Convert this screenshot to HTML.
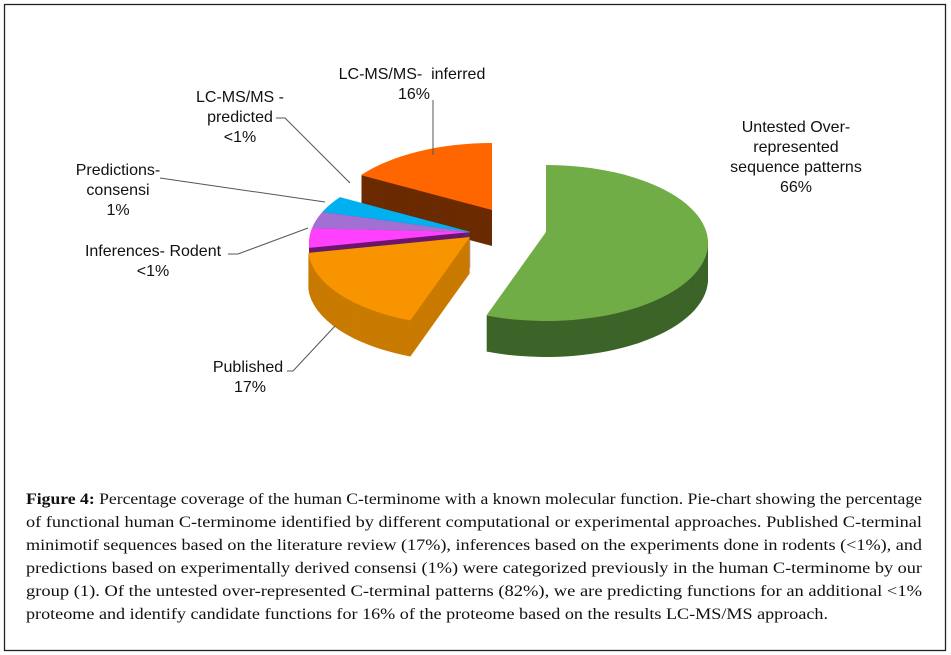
<!DOCTYPE html>
<html><head><meta charset="utf-8"><style>
html,body{margin:0;padding:0;background:#fff}
svg{display:block}
</style></head><body>
<svg id="chart" width="951" height="655" viewBox="0 0 951 655" xmlns="http://www.w3.org/2000/svg">
<rect x="4.5" y="4.5" width="941" height="646" fill="#fff" stroke="#222" stroke-width="1.3"/>
<g id="pie"></g>
<g font-family="'Liberation Sans',Arial,sans-serif" font-size="16" fill="#111" text-anchor="middle">
<g stroke="#555" stroke-width="1" fill="none">
<polyline points="433,100 433,155"/>
<polyline points="276,118 285,118 350,183"/>
<polyline points="160,178 325,202"/>
<polyline points="228,254 238,254 308,228"/>
<polyline points="287,371 293,371 335,326"/>
</g>
<text x="412" y="79">LC-MS/MS-&#160; inferred</text>
<text x="414" y="99">16%</text>
<text x="240" y="102">LC-MS/MS -</text>
<text x="240" y="122">predicted</text>
<text x="240" y="142">&lt;1%</text>
<text x="118" y="175">Predictions-</text>
<text x="118" y="195">consensi</text>
<text x="118" y="215">1%</text>
<text x="153" y="256">Inferences- Rodent</text>
<text x="153" y="276">&lt;1%</text>
<text x="248" y="372">Published</text>
<text x="250" y="392">17%</text>
<text x="796" y="132">Untested Over-</text>
<text x="796" y="152">represented</text>
<text x="796" y="172">sequence patterns</text>
<text x="796" y="192">66%</text>
</g>
<g font-family="'Liberation Serif','Times New Roman',serif" font-size="16" fill="#111">
<text x="26" y="504" textLength="896" lengthAdjust="spacingAndGlyphs"><tspan font-weight="bold">Figure 4:</tspan> Percentage coverage of the human C-terminome with a known molecular function. Pie-chart showing the percentage</text>
<text x="26" y="527" textLength="896" lengthAdjust="spacingAndGlyphs">of functional human C-terminome identified by different computational or experimental approaches. Published C-terminal</text>
<text x="26" y="550" textLength="896" lengthAdjust="spacingAndGlyphs">minimotif sequences based on the literature review (17%), inferences based on the experiments done in rodents (&lt;1%), and</text>
<text x="26" y="573" textLength="896" lengthAdjust="spacingAndGlyphs">predictions based on experimentally derived consensi (1%) were categorized previously in the human C-terminome by our</text>
<text x="26" y="596" textLength="896" lengthAdjust="spacingAndGlyphs">group (1). Of the untested over-represented C-terminal patterns (82%), we are predicting functions for an additional &lt;1%</text>
<text x="26" y="619" textLength="802" lengthAdjust="spacingAndGlyphs">proteome and identify candidate functions for 16% of the proteome based on the results LC-MS/MS approach.</text>
</g>
</svg>
<script>
// Data (visual slice sizes, clockwise from top)
const categories = ["Untested Over-represented", "Published", "Inferences- Rodent", "Predictions- consensi", "LC-MS/MS - predicted", "LC-MS/MS- inferred"];
const values = [56, 18, 4, 3.5, 3.5, 15];
// Style
const topColors = ["#70ad47", "#f79400", "#ff40ff", "#a26fd3", "#00b0f0", "#ff6600"];
const sideColors = ["#3d6428", "#c97a00", "#6a176a", "#5a3a86", "#00608a", "#6b2a00"];
const offX = [72, -4, -3, -3, -3, 18];
const offY = [0, 5, 0, 0, 0, -22];
const cx = 474, cy = 232, rx = 162, ry = 78, ecy = 11, depth = 36;
const NS = "http://www.w3.org/2000/svg";
const g = document.getElementById("pie");
const total = values.reduce((a, b) => a + b, 0);
function pt(a, x0, y0) { return [x0 + rx * Math.cos(a), y0 + ecy + ry * Math.sin(a)]; }
function slicePath(a0, a1, x0, y0) {
  const p0 = pt(a0, x0, y0), p1 = pt(a1, x0, y0);
  const large = (a1 - a0) > Math.PI ? 1 : 0;
  return `M${x0},${y0} L${p0[0]},${p0[1]} A${rx},${ry} 0 ${large} 1 ${p1[0]},${p1[1]} Z`;
}
let a = -Math.PI / 2;
const slices = values.map((v, i) => {
  const a0 = a, a1 = a + v / total * 2 * Math.PI;
  a = a1;
  return { i, a0, a1, mid: (a0 + a1) / 2 };
});
slices.slice().sort((s, t) => Math.sin(s.mid) - Math.sin(t.mid)).forEach(s => {
  const x0 = cx + offX[s.i], y0 = cy + offY[s.i];
  const grp = document.createElementNS(NS, "g");
  
  
  for (let d = depth; d >= 1; d--) {
    const p = document.createElementNS(NS, "path");
    p.setAttribute("d", slicePath(s.a0, s.a1, x0, y0 + d));
    p.setAttribute("fill", sideColors[s.i]);
    
    
    grp.appendChild(p);
  }
  const top = document.createElementNS(NS, "path");
  top.setAttribute("d", slicePath(s.a0, s.a1, x0, y0));
  top.setAttribute("fill", topColors[s.i]);
  
  
  grp.appendChild(top);
  g.appendChild(grp);
});
</script>
</body></html>
